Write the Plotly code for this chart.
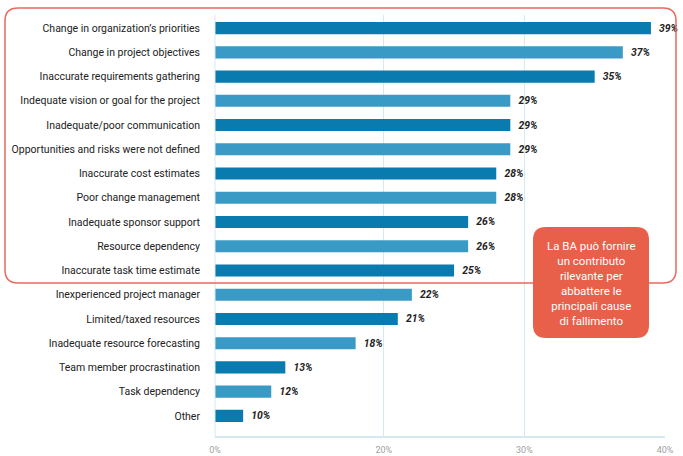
import plotly.graph_objects as go

categories = [
    "Change in organization’s priorities",
    "Change in project objectives",
    "Inaccurate requirements gathering",
    "Indequate vision or goal for the project",
    "Inadequate/poor communication",
    "Opportunities and risks were not defined",
    "Inaccurate cost estimates",
    "Poor change management",
    "Inadequate sponsor support",
    "Resource dependency",
    "Inaccurate task time estimate",
    "Inexperienced project manager",
    "Limited/taxed resources",
    "Inadequate resource forecasting",
    "Team member procrastination",
    "Task dependency",
    "Other",
]
values = [39, 37, 35, 29, 29, 29, 28, 28, 26, 26, 25, 22, 21, 18, 13, 12, 10]
tick_vals = [8, 20, 30, 40]
tick_text = ["0%", "20%", "30%", "40%"]
callout_lines = ["La BA può fornire", "un contributo", "rilevante per",
                 "abbattere le", "principali cause", "di fallimento"]

DARK = "#0A7BAF"
LIGHT = "#3A9AC6"
colors = [DARK if i % 2 == 0 else LIGHT for i in range(len(values))]
FONT = "Roboto, Liberation Sans, Arial, sans-serif"

W, H = 683, 456
L, R, T, B = 215, 18, 15, 19
PW, PH = W - L - R, H - T - B


def px(x):
    return (x - L) / PW


def py(y):
    return 1 - (y - T) / PH


def rounded_path(x0, y0, x1, y1, r):
    rx = r / PW
    ry = r / PH
    X0, X1 = px(x0), px(x1)
    Y0, Y1 = py(y0), py(y1)  # Y0 top, Y1 bottom
    return (f"M {X0+rx},{Y0} L {X1-rx},{Y0} Q {X1},{Y0} {X1},{Y0-ry} "
            f"L {X1},{Y1+ry} Q {X1},{Y1} {X1-rx},{Y1} "
            f"L {X0+rx},{Y1} Q {X0},{Y1} {X0},{Y1+ry} "
            f"L {X0},{Y0-ry} Q {X0},{Y0} {X0+rx},{Y0} Z")


fig = go.Figure()
fig.add_trace(go.Bar(
    x=values, y=categories, orientation="h",
    marker=dict(color=colors, line=dict(width=0)),
    width=0.5,
    texttemplate="  %{x}%",
    textposition="outside",
    cliponaxis=False,
    textfont=dict(family=FONT, size=12, color="#222222", weight="bold", style="italic"),
    hoverinfo="skip",
))

fig.update_layout(
    width=W, height=H,
    margin=dict(l=L, r=R, t=T, b=B, autoexpand=False),
    paper_bgcolor="white", plot_bgcolor="white",
    showlegend=False,
    font=dict(family=FONT, size=10.5, color="#222222"),
    xaxis=dict(range=[8, 40], tickvals=tick_vals, ticktext=tick_text,
               showgrid=True, gridcolor="#D6E8F2", gridwidth=1,
               zeroline=False, showline=False, automargin=False,
               tickfont=dict(size=9, color="#A0A0A0"), ticks="",
               ticklabelstandoff=6, fixedrange=True),
    yaxis=dict(range=[16.87, -0.54], showgrid=False, zeroline=False,
               ticks="", ticklabelstandoff=14, fixedrange=True, automargin=False,
               tickfont=dict(size=10.5, color="#222222", family=FONT)),
)

# left axis line & bottom baseline
fig.add_shape(type="line", xref="paper", yref="paper", x0=0, x1=0, y0=0, y1=1,
              line=dict(color="#D6E8F2", width=1))
fig.add_shape(type="line", xref="paper", yref="paper", x0=0, x1=1, y0=0, y1=0,
              line=dict(color="#D6E8F2", width=2))

# red outline around top items
fig.add_shape(type="path", xref="paper", yref="paper",
              path=rounded_path(5, 8, 676, 283, 13),
              line=dict(color="#E86A5C", width=1.5), fillcolor="rgba(0,0,0,0)",
              layer="above")

# callout box
fig.add_shape(type="path", xref="paper", yref="paper",
              path=rounded_path(533, 227, 649, 338, 13),
              line=dict(color="#E8604A", width=0), fillcolor="#E8604A",
              layer="above")
fig.add_annotation(xref="paper", yref="paper", x=px(591), y=py(283),
                   text="<br>".join(callout_lines), showarrow=False,
                   font=dict(size=11.5, color="white", family=FONT),
                   align="center", xanchor="center", yanchor="middle")

fig.write_html("out.html")
